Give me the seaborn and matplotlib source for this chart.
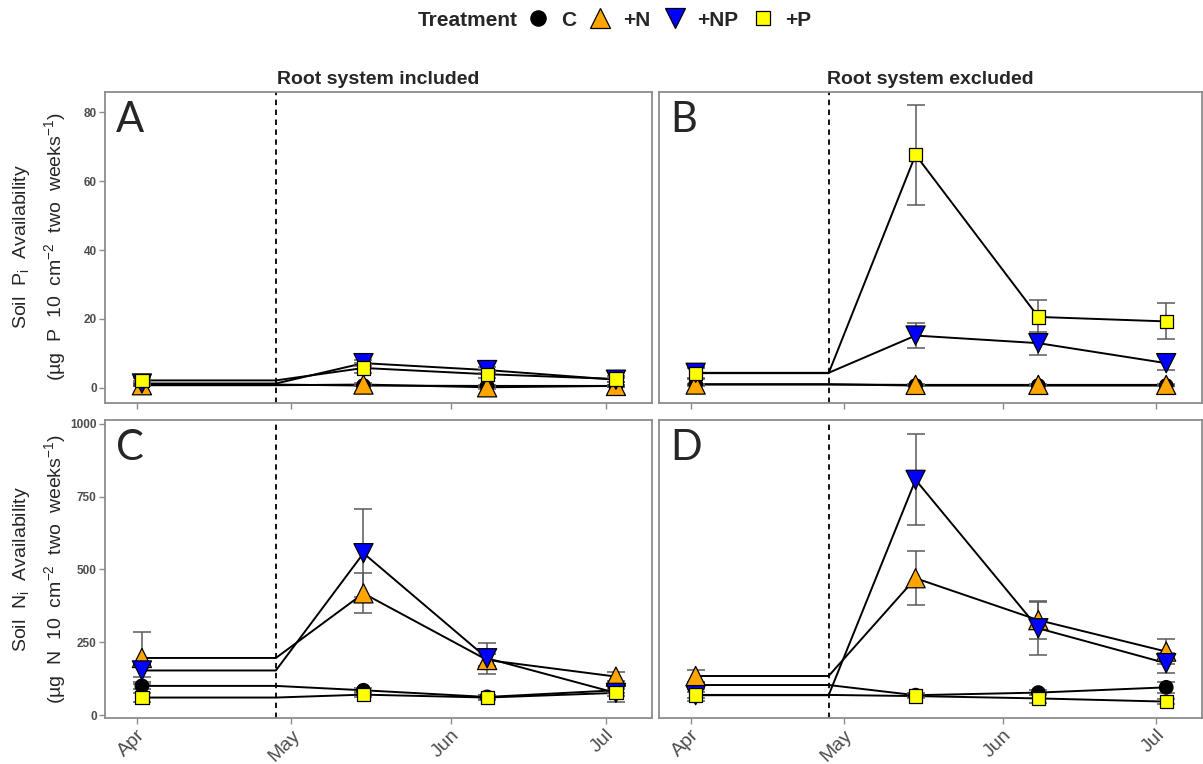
import pandas as pd
import matplotlib.pyplot as plt
import seaborn as sns
from matplotlib.lines import Line2D

# Sampling dates (the 2nd date is the pre-treatment point at the dashed line, drawn without a marker)
dates = ["2017-04-02", "2017-04-28", "2017-05-15", "2017-06-08", "2017-07-03"]
marker_dates = ["2017-04-02", "2017-05-15", "2017-06-08", "2017-07-03"]
treatment_date = "2017-04-28"
month_ticks = ["2017-04-01", "2017-05-01", "2017-06-01", "2017-07-01"]
month_labels = ["Apr", "May", "Jun", "Jul"]
treatments = ["C", "+N", "+NP", "+P"]

# A: soil Pi, root system included
a_c = [1.0, 1.0, 0.7, 0.6, 0.6]
a_n = [0.8, 0.8, 1.0, 0.2, 0.6]
a_np = [1.3, 1.3, 7.2, 5.2, 2.4]
a_p = [2.2, 2.2, 5.8, 4.0, 2.6]
a_c_se = [0.3, 0.2, 0.2, 0.2]
a_n_se = [0.3, 0.5, 0.4, 0.3]
a_np_se = [0.6, 0.8, 0.8, 0.6]
a_p_se = [0.7, 1.5, 1.2, 0.9]

# B: soil Pi, root system excluded
b_c = [1.1, 1.1, 0.7, 0.7, 0.7]
b_n = [1.0, 1.0, 0.9, 0.9, 0.9]
b_np = [4.4, 4.4, 15.2, 13.0, 7.2]
b_p = [4.3, 4.3, 67.6, 20.6, 19.3]
b_c_se = [0.2, 0.2, 0.2, 0.2]
b_n_se = [0.3, 0.2, 0.2, 0.3]
b_np_se = [1.5, 3.6, 3.3, 2.0]
b_p_se = [1.8, 14.5, 5.0, 5.2]

# C: soil Ni, root system included
c_c = [100, 100, 85, 62, 85]
c_n = [196, 196, 418, 189, 132]
c_np = [153, 153, 556, 195, 76]
c_p = [60, 60, 70, 60, 76]
c_c_se = [12, 8, 6, 10]
c_n_se = [90, 69, 20, 15]
c_np_se = [22, 151, 53, 30]
c_p_se = [15, 8, 8, 12]

# D: soil Ni, root system excluded
d_c = [103, 103, 68, 77, 95]
d_n = [134, 134, 470, 326, 218]
d_np = [68, 68, 808, 298, 178]
d_p = [69, 69, 65, 57, 46]
d_c_se = [10, 6, 8, 19]
d_n_se = [21, 92, 65, 42]
d_np_se = [20, 156, 92, 35]
d_p_se = [10, 8, 15, 8]

panels = {
    "A": ([a_c, a_n, a_np, a_p], [a_c_se, a_n_se, a_np_se, a_p_se]),
    "B": ([b_c, b_n, b_np, b_p], [b_c_se, b_n_se, b_np_se, b_p_se]),
    "C": ([c_c, c_n, c_np, c_p], [c_c_se, c_n_se, c_np_se, c_p_se]),
    "D": ([d_c, d_n, d_np, d_p], [d_c_se, d_n_se, d_np_se, d_p_se]),
}

# long tables for seaborn
line_rows, mark_rows = [], []
for key, (vals, ses) in panels.items():
    for t, v, se in zip(treatments, vals, ses):
        for d, y in zip(dates, v):
            line_rows.append({"panel": key, "Treatment": t, "date": pd.Timestamp(d), "value": y})
        mv = [y for d, y in zip(dates, v) if d in marker_dates]
        for d, y, e in zip(marker_dates, mv, se):
            mark_rows.append({"panel": key, "Treatment": t, "date": pd.Timestamp(d), "value": y, "se": e})
lines_df = pd.DataFrame(line_rows)
marks_df = pd.DataFrame(mark_rows)

colors = {"C": "black", "+N": "#FFA500", "+NP": "#0000FF", "+P": "#FFFF00"}
markers = {"C": "o", "+N": "^", "+NP": "v", "+P": "s"}
sizes = {"C": 95, "+N": 190, "+NP": 190, "+P": 90}

sns.set_style("white")
plt.rcParams["font.family"] = ["Liberation Sans", "DejaVu Sans"]
plt.rcParams["mathtext.fontset"] = "custom"
plt.rcParams["mathtext.rm"] = "Liberation Sans"
plt.rcParams["mathtext.it"] = "Liberation Sans:italic"

fig = plt.figure(figsize=(12.03, 7.64), dpi=100)
W, H = 1203, 764
boxes = {
    "A": [105 / W, 1 - 403 / H, 547 / W, 311 / H],
    "B": [659 / W, 1 - 403 / H, 543 / W, 311 / H],
    "C": [105 / W, 1 - 718 / H, 547 / W, 298 / H],
    "D": [659 / W, 1 - 718 / H, 543 / W, 298 / H],
}
ylims = {"A": (-4.35, 85.8), "B": (-4.35, 85.8), "C": (-10.3, 1013.7), "D": (-10.3, 1013.7)}
yticks = {"A": [0, 20, 40, 60, 80], "B": [], "C": [0, 250, 500, 750, 1000], "D": []}

grey30 = "#4D4D4D"
for key in ["A", "B", "C", "D"]:
    ax = fig.add_axes(boxes[key])
    ln = lines_df[lines_df.panel == key]
    mk = marks_df[marks_df.panel == key]

    ax.axvline(pd.Timestamp(treatment_date), color="black", lw=1.3, ls=(0, (3, 2.5)), zorder=1)
    sns.lineplot(data=ln, x="date", y="value", units="Treatment", estimator=None,
                 color="black", lw=1.4, ax=ax, zorder=2)
    for t in treatments:
        s = mk[mk.Treatment == t]
        ax.errorbar(s["date"], s["value"], yerr=s["se"], fmt="none", ecolor="#5A5A5A",
                    elinewidth=1.1, capsize=6.5, capthick=1.1, zorder=3)
    sns.scatterplot(data=mk, x="date", y="value", hue="Treatment", style="Treatment",
                    size="Treatment", hue_order=treatments, style_order=treatments,
                    size_order=treatments, palette=colors, markers=markers, sizes=sizes,
                    edgecolor="black", linewidth=0.9, legend=False, ax=ax, zorder=4)

    ax.set_xlim(pd.Timestamp("2017-03-25 20:00"), pd.Timestamp("2017-07-10"))
    ax.set_ylim(*ylims[key])
    ax.set_xticks(pd.to_datetime(month_ticks))
    if key in ("C", "D"):
        ax.set_xticklabels(month_labels, rotation=45, ha="right", va="top",
                           rotation_mode="anchor", fontsize=14, color=grey30)
    else:
        ax.set_xticklabels([])
    if key in ("A", "C"):
        ax.set_yticks(yticks[key])
        ax.set_yticklabels([str(v) for v in yticks[key]], fontsize=8.5, fontweight="bold",
                           color=grey30, family=["Liberation Sans Narrow", "Liberation Sans"])
    else:
        ax.set_yticks([])
    ax.set_xlabel("")
    ax.set_ylabel("")
    ax.tick_params(axis="both", bottom=True, left=(key in ("A", "C")), length=4,
                   width=1, color="#8C8C8C", direction="out", pad=2)
    for sp in ax.spines.values():
        sp.set_color("#8C8C8C")
        sp.set_linewidth(1.3)

    top_px = 40 / (311 if key in ("A", "B") else 298)
    ax.text(11 / 547, 1 - top_px, key, transform=ax.transAxes, fontsize=30,
            family=["Lato", "DejaVu Sans"], va="baseline", ha="left")
    if key == "A":
        ax.set_title("Root system included", fontsize=14, fontweight="bold", pad=6)
    if key == "B":
        ax.set_title("Root system excluded", fontsize=14, fontweight="bold", pad=6)

# y axis labels
for yc, el in [(247, "P"), (569, "N")]:
    fig.text(22 / W, 1 - yc / H, "Soil  " + el + r"$_{\mathregular{i}}$  Availability",
             rotation=90, ha="center", va="center", fontsize=14)
    fig.text(55 / W, 1 - yc / H,
             "(µg  " + el + r"  10  cm$^{\mathregular{-2}}$  two  weeks$^{\mathregular{-1}}$)",
             rotation=90, ha="center", va="center", fontsize=14)

# legend across the top
fig.text(418 / W, 1 - 20 / H, "Treatment", ha="left", va="center", fontsize=15, fontweight="bold")
handles = [Line2D([], [], ls="", marker=markers[t], markerfacecolor=colors[t],
                  markeredgecolor="black", markeredgewidth=0.9,
                  markersize={"C": 11, "+N": 14, "+NP": 14, "+P": 9.5}[t]) for t in treatments]
fig.legend(handles, treatments, loc="center left", bbox_to_anchor=(528 / W, 1 - 20 / H),
           ncol=4, frameon=False, prop={"weight": "bold", "size": 15}, handlelength=1.0,
           handletextpad=0.6, columnspacing=0.65, borderpad=0, borderaxespad=0)

fig.savefig("out.png", dpi=100)
